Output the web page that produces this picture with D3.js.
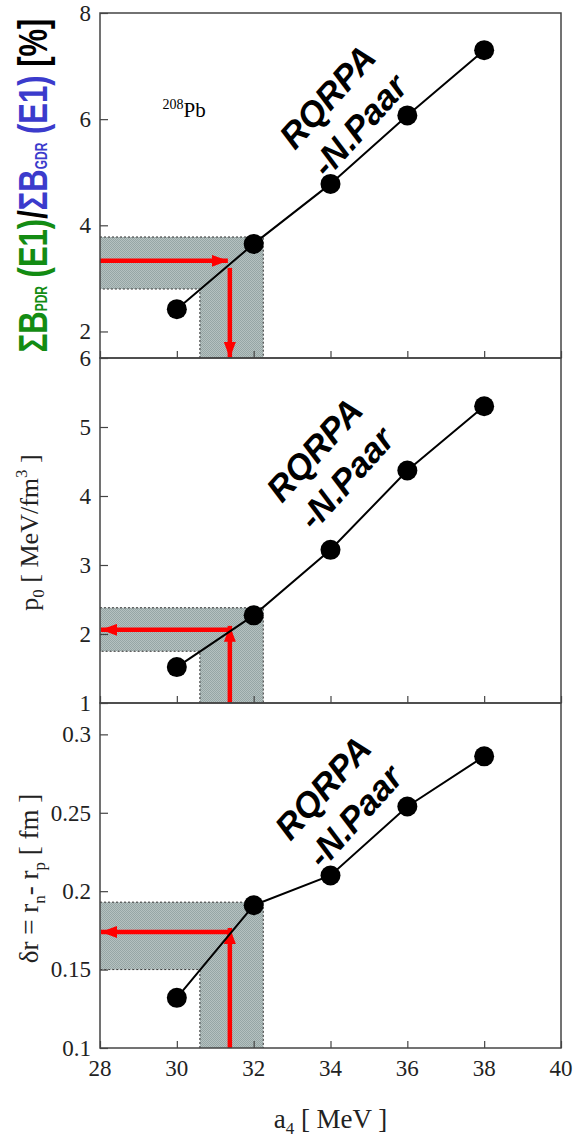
<!DOCTYPE html>
<html>
<head>
<meta charset="utf-8">
<script src="https://cdn.jsdelivr.net/npm/d3@7"></script>
<style>
  body { margin: 0; background: #fff; }
  svg { display: block; }
</style>
</head>
<body>
<div id="chart"></div>
<script>
// symmetry energy a4 [MeV]
const a4 = [30, 32, 34, 36, 38];
// sum B_PDR(E1) / sum B_GDR(E1) [%]
const pdrRatio = [2.42, 3.65, 4.78, 6.07, 7.30];
// pressure p0 [MeV/fm^3]
const p0 = [1.52, 2.27, 3.22, 4.37, 5.30];
// neutron skin dr = rn - rp [fm]
const skin = [0.132, 0.191, 0.210, 0.254, 0.286];

const xTicks = [28, 30, 32, 34, 36, 38, 40];
const pdrTicks = [2, 4, 6, 8];
const p0Ticks = [1, 2, 3, 4, 5, 6];
const skinTicks = [0.1, 0.15, 0.2, 0.25, 0.3];

// constraint bands (shaded) and extracted estimates (red arrows)
const a4Band = [30.6, 32.25];
const pdrBand = [2.80, 3.78];
const p0Band = [1.75, 2.38];
const skinBand = [0.150, 0.193];
const a4Est = 31.38;
const pdrEst = 3.33;
const p0Est = 2.06;
const skinEst = 0.174;

const width = 574, height = 1142;
const left = 100, right = 561;
const panelTops = [13, 358, 703];
const panelH = 345;
const serif = "'Liberation Serif', 'Times New Roman', serif";
const sans = "'Liberation Sans', Arial, sans-serif";

const svg = d3.select('#chart').append('svg')
    .attr('width', width)
    .attr('height', height);

const defs = svg.append('defs');
defs.append('marker')
    .attr('id', 'arrow')
    .attr('viewBox', '0 0 16 12')
    .attr('refX', 16).attr('refY', 6)
    .attr('markerWidth', 16).attr('markerHeight', 12)
    .attr('markerUnits', 'userSpaceOnUse')
    .attr('orient', 'auto')
    .append('path')
    .attr('d', 'M0,0 L16,6 L0,12 Z')
    .attr('fill', '#ff0000');

// fine halftone look of the shaded band
const pat = defs.append('pattern')
    .attr('id', 'halftone')
    .attr('width', 2).attr('height', 2)
    .attr('patternUnits', 'userSpaceOnUse');
pat.append('rect').attr('width', 2).attr('height', 2).attr('fill', '#b5c1c0');
pat.append('rect').attr('width', 1).attr('height', 1).attr('fill', '#96a6a5');
pat.append('rect').attr('x', 1).attr('y', 1).attr('width', 1).attr('height', 1).attr('fill', '#96a6a5');

const x = d3.scaleLinear().domain([28, 40]).range([left, right]);

function drawPanel(idx, values, yDomain, ticks, tickFmt, band, est, arrowDown) {
    const top = panelTops[idx], bottom = top + panelH;
    const y = d3.scaleLinear().domain(yDomain).range([bottom, top]);
    const g = svg.append('g');

    // shaded L-shaped constraint region
    const x0 = x(28), xa = x(a4Band[0]), xb = x(a4Band[1]);
    const yHi = y(band[1]), yLo = y(band[0]);
    g.append('path')
        .attr('d', `M${x0},${yHi} H${xb} V${bottom} H${xa} V${yLo} H${x0} Z`)
        .attr('fill', 'url(#halftone)');
    g.append('path')
        .attr('d', `M${x0},${yHi} H${xb} V${bottom} M${xa},${bottom} V${yLo} H${x0}`)
        .attr('fill', 'none')
        .attr('stroke', '#333')
        .attr('stroke-width', 1)
        .attr('stroke-dasharray', '2,2');

    // red arrows
    const ex = x(a4Est), ey = y(est);
    if (arrowDown) {
        g.append('line')
            .attr('x1', x0).attr('y1', ey).attr('x2', ex - 2).attr('y2', ey)
            .attr('stroke', '#ff0000').attr('stroke-width', 4.5)
            .attr('marker-end', 'url(#arrow)');
        g.append('line')
            .attr('x1', ex).attr('y1', ey + 7).attr('x2', ex).attr('y2', bottom)
            .attr('stroke', '#ff0000').attr('stroke-width', 4.5)
            .attr('marker-end', 'url(#arrow)');
    } else {
        g.append('line')
            .attr('x1', ex).attr('y1', bottom).attr('x2', ex).attr('y2', ey - 4)
            .attr('stroke', '#ff0000').attr('stroke-width', 4.5)
            .attr('marker-end', 'url(#arrow)');
        g.append('line')
            .attr('x1', ex).attr('y1', ey).attr('x2', x0 + 1).attr('y2', ey)
            .attr('stroke', '#ff0000').attr('stroke-width', 4.5)
            .attr('marker-end', 'url(#arrow)');
    }

    // axes: inward tick marks from d3 axes, labels drawn from the same scales
    const yAxis = d3.axisLeft(y).tickValues(ticks).tickFormat('')
        .tickSizeInner(-8).tickSizeOuter(0);
    const yAxisG = g.append('g').attr('transform', `translate(${left},0)`);
    yAxisG.call(yAxis);
    yAxisG.select('.domain').remove();
    yAxisG.selectAll('line').attr('stroke', '#444').attr('stroke-width', 1.2);

    g.selectAll('text.ylab')
        .data(ticks)
        .join('text')
        .attr('class', 'ylab')
        .attr('x', left - 9)
        .attr('y', d => y(d))
        .attr('dy', '0.34em')
        .attr('text-anchor', 'end')
        .attr('font-family', serif)
        .attr('font-size', 23)
        .attr('fill', '#222')
        .text(tickFmt);

    const xAxis = d3.axisBottom(x).tickValues(xTicks).tickFormat('')
        .tickSizeInner(-7).tickSizeOuter(0);
    const xAxisG = g.append('g').attr('transform', `translate(0,${bottom})`);
    xAxisG.call(xAxis);
    xAxisG.select('.domain').remove();
    xAxisG.selectAll('line').attr('stroke', '#444').attr('stroke-width', 1.2);

    if (idx === 2) {
        g.selectAll('text.xlab')
            .data(xTicks)
            .join('text')
            .attr('class', 'xlab')
            .attr('x', d => x(d))
            .attr('y', bottom + 28)
            .attr('text-anchor', 'middle')
            .attr('font-family', serif)
            .attr('font-size', 23)
            .attr('fill', '#222')
            .text(d3.format('d'));
    }

    // frame
    g.append('rect')
        .attr('x', left).attr('y', top)
        .attr('width', right - left).attr('height', panelH)
        .attr('fill', 'none').attr('stroke', '#444').attr('stroke-width', 1.5);

    // curve and points
    const pts = a4.map((d, i) => [d, values[i]]);
    g.append('path')
        .datum(pts)
        .attr('d', d3.line().x(d => x(d[0])).y(d => y(d[1])))
        .attr('fill', 'none').attr('stroke', '#000').attr('stroke-width', 2);
    g.selectAll('circle')
        .data(pts)
        .join('circle')
        .attr('cx', d => x(d[0])).attr('cy', d => y(d[1]))
        .attr('r', 10).attr('fill', '#000');

    return y;
}

const yTop = drawPanel(0, pdrRatio, [1.5, 8], pdrTicks, d3.format('d'), pdrBand, pdrEst, true);
const yMid = drawPanel(1, p0, [1, 6], p0Ticks, d3.format('d'), p0Band, p0Est, false);
const yBot = drawPanel(2, skin, [0.1, 0.32], skinTicks, d => d3.format('.2~f')(d), skinBand, skinEst, false);

// RQRPA -N.Paar annotations
const notes = [
    {y: yTop, ax: 33.92, ay: 6.42},
    {y: yMid, ax: 33.58, ay: 4.67},
    {y: yBot, ax: 33.80, ay: 0.266}
];
notes.forEach(n => {
    const t = svg.append('text')
        .attr('transform', `translate(${x(n.ax)},${n.y(n.ay)}) rotate(-48)`)
        .attr('text-anchor', 'middle')
        .style('font-family', sans)
        .style('font-weight', 'bold')
        .style('font-style', 'italic')
        .style('font-size', '35px')
        .attr('fill', '#000');
    t.append('tspan').attr('x', 0).attr('dy', '0.35em').text('RQRPA');
    t.append('tspan').attr('x', 0).attr('dy', '1.22em').text('-N.Paar');
});

// 208Pb label
const pb = svg.append('text')
    .attr('x', x(29.63)).attr('y', yTop(6.04))
    .style('font-family', serif)
    .attr('fill', '#000');
pb.append('tspan').attr('dy', '-8').style('font-size', '14px').text('208');
pb.append('tspan').attr('dy', '8').style('font-size', '21px').text('Pb');

// top y label (bold, coloured)
const green = '#138c13', blue = '#3b3bcc';
const topLab = svg.append('text')
    .attr('transform', `translate(47,${(panelTops[0] + panelTops[1]) / 2}) rotate(-90) scale(1,1.3)`)
    .attr('text-anchor', 'middle')
    .style('font-family', sans)
    .style('font-weight', 'bold')
    .style('font-size', '31px');
topLab.append('tspan').attr('fill', green).text('ΣB');
topLab.append('tspan').attr('fill', green).style('font-size', '12px').text('PDR');
topLab.append('tspan').attr('fill', green).text(' (E1)');
topLab.append('tspan').attr('fill', '#000').text('/');
topLab.append('tspan').attr('fill', blue).text('ΣB');
topLab.append('tspan').attr('fill', blue).style('font-size', '12px').text('GDR');
topLab.append('tspan').attr('fill', blue).text(' (E1)');
topLab.append('tspan').attr('fill', '#000').text(' [%]');

// middle y label
const midLab = svg.append('text')
    .attr('transform', `translate(38,${(panelTops[1] + panelTops[2]) / 2 + 2}) rotate(-90)`)
    .attr('text-anchor', 'middle')
    .style('font-family', serif).style('font-size', '26px').attr('fill', '#222');
midLab.append('tspan').text('p');
midLab.append('tspan').attr('dy', 6).style('font-size', '17px').text('0');
midLab.append('tspan').attr('dy', -6).text(' [ MeV/fm');
midLab.append('tspan').attr('dy', -11).style('font-size', '17px').text('3');
midLab.append('tspan').attr('dy', 11).text(' ]');

// bottom y label
const botLab = svg.append('text')
    .attr('transform', `translate(38,${panelTops[2] + panelH / 2 + 3}) rotate(-90)`)
    .attr('text-anchor', 'middle')
    .style('font-family', serif).style('font-size', '27px').attr('fill', '#222');
botLab.append('tspan').text('δr = r');
botLab.append('tspan').attr('dy', 7).style('font-size', '17px').text('n');
botLab.append('tspan').attr('dy', -7).text('- r');
botLab.append('tspan').attr('dy', 7).style('font-size', '17px').text('p');
botLab.append('tspan').attr('dy', -7).text(' [ fm ]');

// x label
const xLab = svg.append('text')
    .attr('x', (left + right) / 2).attr('y', 1128)
    .attr('text-anchor', 'middle')
    .style('font-family', serif).style('font-size', '27px').attr('fill', '#222');
xLab.append('tspan').text('a');
xLab.append('tspan').attr('dy', 6).style('font-size', '17px').text('4');
xLab.append('tspan').attr('dy', -6).text(' [ MeV ]');
</script>
</body>
</html>
